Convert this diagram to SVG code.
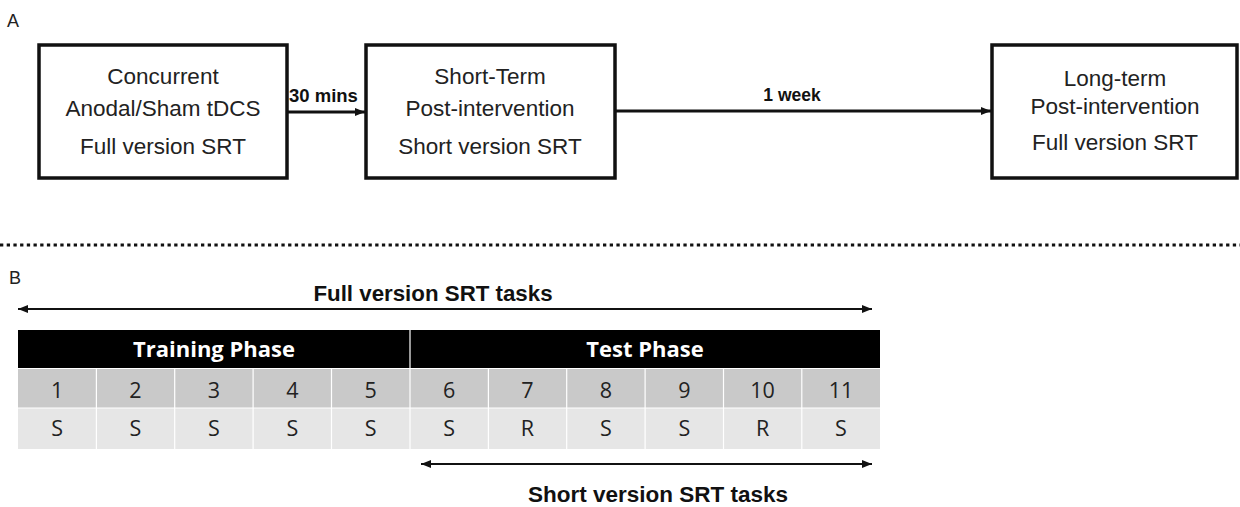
<svg xmlns="http://www.w3.org/2000/svg" width="1240" height="507" viewBox="0 0 1240 507">
<style>
.box{fill:#fff;stroke:#111;stroke-width:3.5}
.bt{font-family:"Liberation Sans",Arial,sans-serif;font-size:22.5px;fill:#222;text-anchor:middle}
.lbl{font-family:"Liberation Sans",Arial,sans-serif;font-weight:bold;fill:#111}
.panel{font-family:"Liberation Sans",Arial,sans-serif;font-size:18px;fill:#222}
.hdr{font-family:"Open Sans","Noto Sans",sans-serif;font-weight:bold;font-size:22px;fill:#fff;text-anchor:middle}
.cell{font-family:"Open Sans","Noto Sans",sans-serif;font-size:21.5px;fill:#222;text-anchor:middle}
.ln{stroke:#111;fill:none}
.sep{stroke:#fff;stroke-width:1.2}
</style>
<defs>
<marker id="ah" viewBox="0 0 10 10" refX="10" refY="5" markerWidth="10" markerHeight="10" markerUnits="userSpaceOnUse" orient="auto-start-reverse">
<path d="M0,1 L10,5 L0,9 z" fill="#111"/>
</marker>
</defs>
<text class="panel" x="7" y="27">A</text>
<text class="panel" x="9" y="284">B</text>
<g id="node-concurrent">
<rect class="box" x="39" y="45" width="248" height="133"/>
<text class="bt" x="163" y="84">Concurrent</text>
<text class="bt" x="163" y="116">Anodal/Sham tDCS</text>
<text class="bt" x="163" y="154">Full version SRT</text>
</g>
<g id="node-short">
<rect class="box" x="366" y="45" width="249" height="133"/>
<text class="bt" x="490" y="84">Short-Term</text>
<text class="bt" x="490" y="116">Post-intervention</text>
<text class="bt" x="490" y="154">Short version SRT</text>
</g>
<g id="node-long">
<rect class="box" x="992" y="45" width="245" height="133"/>
<text class="bt" x="1115" y="86">Long-term</text>
<text class="bt" x="1115" y="114">Post-intervention</text>
<text class="bt" x="1115" y="150">Full version SRT</text>
</g>
<g id="connectors">
<line class="ln" x1="288" y1="112" x2="365" y2="112" stroke-width="3" marker-end="url(#ah)"/>
<line class="ln" x1="616" y1="111" x2="991" y2="111" stroke-width="3" marker-end="url(#ah)"/>
<line class="ln" x1="18" y1="309" x2="872" y2="309" stroke-width="2" marker-start="url(#ah)" marker-end="url(#ah)"/>
<line class="ln" x1="421" y1="464" x2="872" y2="464" stroke-width="2" marker-start="url(#ah)" marker-end="url(#ah)"/>
</g>
<text class="lbl" x="289" y="102" font-size="18.5">30 mins</text>
<text class="lbl" x="792" y="101" font-size="17.5" text-anchor="middle">1 week</text>
<line x1="0" y1="245" x2="1240" y2="245" stroke="#111" stroke-width="3" stroke-dasharray="3.3 3.4"/>
<text class="lbl" x="433" y="301" font-size="22.3" text-anchor="middle">Full version SRT tasks</text>
<text class="lbl" x="658" y="502" font-size="22.5" text-anchor="middle">Short version SRT tasks</text>
<g id="table">
<rect x="18" y="330" width="862" height="38.5" fill="#000"/>
<rect x="18" y="368.5" width="862" height="39.5" fill="#c9c9c9"/>
<rect x="18" y="408" width="862" height="41" fill="#e6e6e6"/>
<line class="sep" x1="410" y1="330" x2="410" y2="449" stroke="#ddd"/>
<line class="sep" x1="18" y1="368.5" x2="880" y2="368.5"/>
<line class="sep" x1="18" y1="408" x2="880" y2="408"/>
<g class="seps">
<line class="sep" x1="96.4" y1="368.5" x2="96.4" y2="449"/>
<line class="sep" x1="174.7" y1="368.5" x2="174.7" y2="449"/>
<line class="sep" x1="253.1" y1="368.5" x2="253.1" y2="449"/>
<line class="sep" x1="331.5" y1="368.5" x2="331.5" y2="449"/>
<line class="sep" x1="488.4" y1="368.5" x2="488.4" y2="449"/>
<line class="sep" x1="566.7" y1="368.5" x2="566.7" y2="449"/>
<line class="sep" x1="645.1" y1="368.5" x2="645.1" y2="449"/>
<line class="sep" x1="723.5" y1="368.5" x2="723.5" y2="449"/>
<line class="sep" x1="801.8" y1="368.5" x2="801.8" y2="449"/>
</g>
<text class="hdr" x="214" y="357">Training Phase</text>
<text class="hdr" x="645" y="357">Test Phase</text>
<text class="cell" x="57.2" y="398">1</text>
<text class="cell" x="135.5" y="398">2</text>
<text class="cell" x="213.9" y="398">3</text>
<text class="cell" x="292.3" y="398">4</text>
<text class="cell" x="370.7" y="398">5</text>
<text class="cell" x="449.2" y="398">6</text>
<text class="cell" x="527.5" y="398">7</text>
<text class="cell" x="605.9" y="398">8</text>
<text class="cell" x="684.3" y="398">9</text>
<text class="cell" x="762.6" y="398">10</text>
<text class="cell" x="841" y="398">11</text>
<text class="cell" x="57.2" y="436">S</text>
<text class="cell" x="135.5" y="436">S</text>
<text class="cell" x="213.9" y="436">S</text>
<text class="cell" x="292.3" y="436">S</text>
<text class="cell" x="370.7" y="436">S</text>
<text class="cell" x="449.2" y="436">S</text>
<text class="cell" x="527.5" y="436">R</text>
<text class="cell" x="605.9" y="436">S</text>
<text class="cell" x="684.3" y="436">S</text>
<text class="cell" x="762.6" y="436">R</text>
<text class="cell" x="841" y="436">S</text>
</g>
</svg>
